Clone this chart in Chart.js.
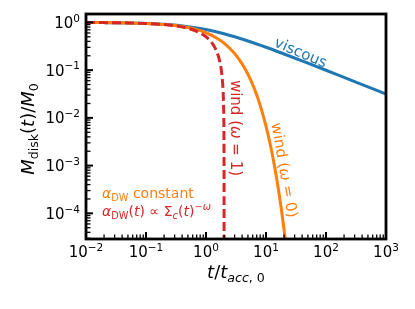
<!DOCTYPE html>
<html>
<head>
<meta charset="utf-8">
<script src="https://cdn.jsdelivr.net/npm/chart.js@4/dist/chart.umd.min.js"></script>
<style>
  html, body { margin: 0; padding: 0; background: #fff; }
  #grafico { display: block; }
</style>
</head>
<body>
<canvas id="grafico" width="415" height="309"></canvas>
<script>
// --- Datos ---
const tViscoso = [0.01, 0.02, 0.05, 0.1, 0.2, 0.5, 1, 2, 5, 10, 20, 50, 100, 200, 500, 1000];
const mViscoso = [0.995, 0.990, 0.976, 0.953, 0.913, 0.816, 0.707, 0.577, 0.408, 0.302, 0.218, 0.140, 0.0995, 0.0705, 0.0447, 0.0316];

const tVientoW0 = [0.01, 0.02, 0.05, 0.1, 0.2, 0.3, 0.5, 0.7, 1, 1.5, 2, 3, 4, 5, 6, 7, 8, 10, 12, 14, 16, 18, 20, 22];
const mVientoW0 = [0.995, 0.990, 0.975, 0.951, 0.905, 0.861, 0.779, 0.705, 0.607, 0.472, 0.368, 0.223, 0.135, 0.082, 0.0498, 0.0302, 0.0183, 0.00674, 0.00248, 0.00091, 0.000335, 0.000123, 0.000045, 0.0000167];

const tVientoW1 = [0.01, 0.02, 0.05, 0.1, 0.2, 0.3, 0.5, 0.7, 1, 1.2, 1.4, 1.6, 1.7, 1.8, 1.9, 1.95, 1.98, 1.99, 1.995, 1.998, 1.999, 1.9995, 1.9999, 1.99999];
const mVientoW1 = [0.995, 0.99, 0.975, 0.95, 0.9, 0.85, 0.75, 0.65, 0.5, 0.4, 0.3, 0.2, 0.15, 0.1, 0.05, 0.025, 0.01, 0.005, 0.0025, 0.001, 0.0005, 0.00025, 0.00005, 0.000005];

const xDecadas = [-2, -1, 0, 1, 2, 3];
const yDecadas = [0, -1, -2, -3, -4];

const azul = '#1f77b4';
const naranja = '#ff7f0e';
const rojo = '#d62728';
const FUENTE = '"DejaVu Sans"';

const puntos = (xs, ys) => xs.map((v, i) => ({ x: v, y: ys[i] }));

// --- Texto con subindices / superindices ---
function medir(ctx, partes, tam) {
  let w = 0;
  for (const p of partes) {
    const s = (p.sub || p.sup) ? tam * 0.7 : tam;
    ctx.font = (p.it ? 'italic ' : '') + s + 'px ' + FUENTE;
    w += ctx.measureText(p.t).width;
  }
  return w;
}

function pintar(ctx, partes, x0, y0, tam) {
  let x = x0;
  for (const p of partes) {
    const s = (p.sub || p.sup) ? tam * 0.7 : tam;
    ctx.font = (p.it ? 'italic ' : '') + s + 'px ' + FUENTE;
    const dy = p.sub ? tam * 0.22 : (p.sup ? -tam * 0.42 : 0);
    ctx.fillText(p.t, x, y0 + dy);
    x += ctx.measureText(p.t).width;
  }
}

function rotulo(ctx, partes, cx, cy, tam, ang, color, alin) {
  ctx.save();
  ctx.translate(cx, cy);
  ctx.rotate(ang * Math.PI / 180);
  ctx.fillStyle = color;
  ctx.textAlign = 'left';
  ctx.textBaseline = 'alphabetic';
  const w = medir(ctx, partes, tam);
  const x0 = alin === 'left' ? 0 : (alin === 'right' ? -w : -w / 2);
  pintar(ctx, partes, x0, tam * 0.36, tam);
  ctx.restore();
}

const exp = k => (k < 0 ? '\u2212' + (-k) : String(k));

// --- Ejes, marcas y anotaciones ---
const dibujos = {
  id: 'dibujos',
  afterDatasetsDraw(chart) {
    const { ctx, chartArea: a, scales: { x, y } } = chart;
    ctx.save();
    ctx.strokeStyle = '#000';

    // marcas eje x (hacia adentro)
    for (let k = -2; k <= 3; k++) {
      for (let m = 1; m <= 9; m++) {
        const v = m * Math.pow(10, k);
        if (v < x.min * 0.999 || v > x.max * 1.001) continue;
        const px = x.getPixelForValue(v);
        ctx.lineWidth = m === 1 ? 2 : 1.3;
        const largo = m === 1 ? 7 : 4.5;
        ctx.beginPath();
        ctx.moveTo(px, a.bottom);
        ctx.lineTo(px, a.bottom - largo);
        ctx.stroke();
      }
    }
    // marcas eje y
    for (let k = -5; k <= 0; k++) {
      for (let m = 1; m <= 9; m++) {
        const v = m * Math.pow(10, k);
        if (v < y.min || v > y.max) continue;
        const py = y.getPixelForValue(v);
        ctx.lineWidth = m === 1 ? 2 : 1.3;
        const largo = m === 1 ? 7 : 4.5;
        ctx.beginPath();
        ctx.moveTo(a.left, py);
        ctx.lineTo(a.left + largo, py);
        ctx.stroke();
      }
    }

    // marco
    ctx.lineWidth = 2.8;
    ctx.strokeRect(a.left, a.top, a.right - a.left, a.bottom - a.top);

    // etiquetas de ticks
    ctx.fillStyle = '#000';
    xDecadas.forEach(k => {
      const px = x.getPixelForValue(Math.pow(10, k));
      const partes = [{ t: '10' }, { t: exp(k), sup: true }];
      const w = medir(ctx, partes, 15);
      pintar(ctx, partes, px - w / 2, a.bottom + 18, 15);
    });
    yDecadas.forEach(k => {
      const py = y.getPixelForValue(Math.pow(10, k));
      const partes = [{ t: '10' }, { t: exp(k), sup: true }];
      const w = medir(ctx, partes, 15);
      pintar(ctx, partes, a.left - 6 - w, py + 5.5, 15);
    });

    // titulos de ejes
    rotulo(ctx, [{ t: 'M', it: true }, { t: 'disk', sub: true }, { t: '(' }, { t: 't', it: true },
      { t: ')/' }, { t: 'M', it: true }, { t: '0', sub: true }], 28, 129, 18, -90, '#000');
    rotulo(ctx, [{ t: 't', it: true }, { t: '/' }, { t: 't', it: true },
      { t: 'acc', it: true, sub: true }, { t: ', 0', sub: true }], 236, 272, 18, 0, '#000');

    // anotaciones de curvas
    rotulo(ctx, [{ t: 'viscous' }], 301, 52, 15, 23, azul);
    rotulo(ctx, [{ t: 'wind (' }, { t: '\u03c9', it: true }, { t: ' = 1)' }], 236, 128, 15, 90, rojo);
    rotulo(ctx, [{ t: 'wind (' }, { t: '\u03c9', it: true }, { t: ' = 0)' }], 285, 170, 15, 80, naranja);

    rotulo(ctx, [{ t: '\u03b1', it: true }, { t: 'DW', sub: true }, { t: ' constant' }],
      102, 193, 14, 0, naranja, 'left');
    rotulo(ctx, [{ t: '\u03b1', it: true }, { t: 'DW', sub: true }, { t: '(' }, { t: 't', it: true },
      { t: ') \u221d \u03a3' }, { t: 'c', it: true, sub: true }, { t: '(' }, { t: 't', it: true },
      { t: ')' }, { t: '\u2212\u03c9', it: true, sup: true }], 102, 211, 14, 0, rojo, 'left');

    ctx.restore();
  }
};

new Chart(document.getElementById('grafico'), {
  type: 'line',
  data: {
    datasets: [
      {
        label: 'wind (w=1)',
        data: puntos(tVientoW1, mVientoW1),
        borderColor: rojo,
        borderWidth: 3,
        borderDash: [9, 4],
        pointRadius: 0,
        cubicInterpolationMode: 'monotone',
        clip: 0
      },
      {
        label: 'wind (w=0)',
        data: puntos(tVientoW0, mVientoW0),
        borderColor: naranja,
        borderWidth: 3,
        pointRadius: 0,
        cubicInterpolationMode: 'monotone',
        clip: 0
      },
      {
        label: 'viscous',
        data: puntos(tViscoso, mViscoso),
        borderColor: azul,
        borderWidth: 3,
        pointRadius: 0,
        cubicInterpolationMode: 'monotone',
        clip: 0
      }
    ]
  },
  options: {
    responsive: false,
    animation: false,
    devicePixelRatio: 1,
    layout: { padding: { top: 14, right: 29, left: 0, bottom: 0 } },
    plugins: { legend: { display: false }, tooltip: { enabled: false } },
    scales: {
      x: {
        type: 'logarithmic', min: 0.01, max: 1000,
        ticks: { display: false }, grid: { display: false }, border: { display: false },
        afterFit(s) { s.height = 70; }
      },
      y: {
        type: 'logarithmic', min: 2.9e-5, max: 1.5,
        ticks: { display: false }, grid: { display: false }, border: { display: false },
        afterFit(s) { s.width = 86; }
      }
    }
  },
  plugins: [dibujos]
});
</script>
</body>
</html>
